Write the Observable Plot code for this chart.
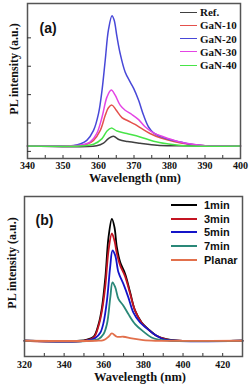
<!DOCTYPE html>
<html><head><meta charset="utf-8">
<script src="https://cdn.jsdelivr.net/npm/d3@7"></script>
<script src="https://cdn.jsdelivr.net/npm/@observablehq/plot@0.6"></script>
<style>
body{margin:0;background:#fff;}
#wrap{position:relative;width:250px;height:389px;overflow:hidden;background:#fff;}
.panel{position:absolute;left:0;}
.ytitle{position:absolute;white-space:nowrap;font-family:'Liberation Serif','Times New Roman',serif;font-weight:bold;font-size:12px;color:#111;line-height:12px;transform:translate(-50%,-50%) rotate(-90deg);}
</style></head><body><div id="wrap"></div>
<script>
// ---------- Panel (a) data ----------
const seriesA = ["Ref.", "GaN-10", "GaN-20", "GaN-30", "GaN-40"];
const colorsA = ["#404040", "#e4504c", "#4848d8", "#e444e4", "#48e448"];
const refA = [[340,.19],[359.5,.2],[361.4,.29],[362.8,.45],[364.2,.53],[365.9,.41],[368.2,.35],[371.7,.29],[376.5,.22],[382,.2],[400,.19]];
const gan10A = [[340,.19],[354,.2],[356.7,.25],[358.6,.39],[360.5,.74],[361.9,1.27],[362.8,1.54],[363.8,1.63],[365,1.45],[366.6,1.19],[368.4,1.07],[370.3,.95],[372.2,.8],[374.5,.63],[377.4,.48],[381.2,.35],[385,.26],[390,.2],[400,.19]];
const gan20A = [[340,.19],[350,.2],[353,.21],[355,.27],[356.7,.39],[358.6,.74],[360,1.33],[361,2.16],[361.9,3.22],[362.8,4.28],[363.8,4.78],[364.4,4.63],[365.2,4.04],[366.1,3.45],[367.5,2.8],[368.9,2.45],[369.9,2.22],[371.3,1.8],[372.7,1.27],[374.1,.86],[375.5,.65],[377.4,.53],[380.3,.41],[383.1,.33],[386,.25],[390,.2],[400,.19]];
const gan30A = [[340,.19],[352,.2],[354.8,.22],[357.6,.33],[359.5,.63],[361,1.21],[362.4,1.92],[363.6,2.16],[364.7,1.98],[366.1,1.63],[367.5,1.45],[369.4,1.3],[371.3,1.12],[373.2,.86],[375.5,.65],[378.4,.51],[382.1,.36],[386,.26],[390,.2],[400,.19]];
const gan40A = [[340,.19],[356,.2],[358.6,.25],[361,.45],[362.4,.72],[363.6,.82],[365.2,.72],[368,.63],[371.7,.51],[375.5,.36],[379.3,.27],[384,.2],[400,.19]];
const dataA = [refA, gan10A, gan20A, gan30A, gan40A];
const xLabelTicksA = [340, 350, 360, 370, 380, 390, 400];
const xMinorTicksA = [345,350,355,360,365,370,375,380,385,390,395];
const yTicksA = [0, 1, 2, 3, 4];

// ---------- Panel (b) data ----------
const seriesB = ["1min", "3min", "5min", "7min", "Planar"];
const colorsB = ["#000000", "#c41422", "#1414c8", "#2a8878", "#e2704c"];
const min1B = [[320,0],[348,0],[351.6,1],[354.9,3.3],[357.4,13.7],[359.1,27.4],[360.8,52],[362.4,84.9],[364.1,100],[365.4,93.1],[366.6,76.7],[368.3,64.3],[370.8,54.8],[373.3,39.7],[375.8,24.7],[379.1,15],[382.4,9.6],[386.6,4.1],[391.6,1.4],[398,0],[430,0]];
const min3B = [[320,0],[350,0],[354.9,2.7],[357.4,12.3],[359.1,24.7],[360.8,45],[362.4,74],[364.1,88],[365.4,82],[366.6,71.5],[368.3,61.6],[370.8,52.6],[373.3,38.6],[375.8,24.7],[379.1,14.8],[382.4,9.3],[386.6,4.1],[392,1],[398,0],[430,0]];
const min5B = [[320,0],[351,0],[355.7,2.2],[358.3,6.8],[359.9,15],[361.6,32.9],[363.3,61.6],[364.4,74],[365.8,69.8],[367.4,56.1],[369.9,46.6],[372.4,35.6],[374.9,23.3],[378.3,15],[381.6,10.4],[385.8,4.9],[389.9,1.4],[396,0],[430,0]];
const min7B = [[320,0],[353,0],[357.4,1.4],[359.9,5.5],[361.6,13.7],[363.3,35.6],[364.4,47.9],[365.8,43.8],[367.4,34.3],[369.9,28.8],[372.4,21.9],[375.8,13.7],[379.9,7.7],[384.1,2.7],[388.3,0.8],[394,0],[430,0]];
const planarB = [[320,0],[356,0],[359.9,0.5],[362.4,3.3],[364.1,6],[366.6,3.3],[369.9,3.3],[374.1,1.9],[379.9,0.5],[386,0],[430,0]];
const dataB = [min1B, min3B, min5B, min7B, planarB];
const xLabelTicksB = [320, 340, 360, 380, 400, 420];
const xMinorTicksB = [330,340,350,360,370,380,390,400,410,420];

const serif = "'Liberation Serif','Times New Roman',serif";
const sans = "'Liberation Sans',Arial,sans-serif";
const toRows = (names, data) => names.flatMap((s, i) => data[i].map(([x, y]) => ({series: s, x, y})));

const wrap = document.getElementById("wrap");

function panel(o) {
  const innerW = 250 - o.ml - o.mr, innerH = o.height - o.mt - o.mb;
  const marks = [
    Plot.line(o.rows, {x: "x", y: "y", z: "series", stroke: "series", strokeWidth: o.sw, curve: "catmull-rom"}),
    Plot.ruleX(o.minorTicks, {x: d => d, insetTop: innerH - 3, stroke: "#333", strokeWidth: 1}),
    Plot.frame({stroke: "#555", strokeWidth: 1.5}),
    Plot.axisX({ticks: o.labelTicks, tickSize: 0, tickPadding: o.tickPad, label: null, fontSize: 10, fontWeight: "bold", fontFamily: serif, fill: "#111"}),
    Plot.text(["Wavelength (nm)"], {frameAnchor: "bottom", dx: o.titleDx, dy: o.titleDy, fontSize: o.titleSize, fontWeight: "bold", fontFamily: serif, fill: "#111", text: d => d}),
    Plot.text([o.tag], {frameAnchor: "top-left", textAnchor: "start", dx: o.tagDx, dy: o.tagDy, fontSize: 14, fontWeight: "bold", fontFamily: sans, fill: "#111", text: d => d})
  ];
  if (o.yTicks) marks.push(Plot.ruleY(o.yTicks, {y: d => d, insetRight: innerW - 4, stroke: "#333", strokeWidth: 1}));
  return Plot.plot({
    width: 250, height: o.height, marginTop: o.mt, marginBottom: o.mb, marginLeft: o.ml, marginRight: o.mr,
    x: {domain: o.xdom, axis: null}, y: {domain: o.ydom, axis: null},
    color: {domain: o.names, range: o.colors},
    style: {fontFamily: serif, background: "transparent", overflow: "visible"},
    marks
  });
}

function legend(container, names, colors, {x, y0, dy, lw, gap, font, size, sw}) {
  names.forEach((n, i) => {
    const row = document.createElement("div");
    row.style.cssText = `position:absolute;left:${x}px;top:${y0 + i * dy - 7}px;height:14px;display:flex;align-items:center;white-space:nowrap;font-family:${font};font-weight:bold;font-size:${size}px;color:#111;line-height:14px;`;
    const line = document.createElement("span");
    line.style.cssText = `display:inline-block;width:${lw}px;height:0;border-top:${sw}px solid ${colors[i]};margin-right:${gap}px;`;
    const t = document.createElement("span");
    t.textContent = n;
    row.appendChild(line); row.appendChild(t);
    container.appendChild(row);
  });
}
function ytitle(container, cx, cy) {
  const d = document.createElement("div");
  d.className = "ytitle";
  d.style.left = cx + "px"; d.style.top = cy + "px";
  d.textContent = "PL intensity (a.u.)";
  container.appendChild(d);
}

const divA = document.createElement("div");
divA.className = "panel"; divA.style.top = "0px"; divA.style.width = "250px"; divA.style.height = "190px";
divA.appendChild(panel({
  rows: toRows(seriesA, dataA), names: seriesA, colors: colorsA,
  xdom: [340, 400], ydom: [-0.25, 5.21], height: 190, mt: 3, mb: 32, ml: 27, mr: 10,
  labelTicks: xLabelTicksA, minorTicks: xMinorTicksA, yTicks: yTicksA, sw: 1.5,
  tag: "(a)", tagDx: 12, tagDy: 20, titleDx: 1, titleDy: 23.5, tickPad: 3, titleSize: 12.5
}));
legend(divA, seriesA, colorsA, {x: 180, y0: 12, dy: 13.3, lw: 17, gap: 3, font: serif, size: 11, sw: 1.5});
ytitle(divA, 14, 68.5);
wrap.appendChild(divA);

const divB = document.createElement("div");
divB.className = "panel"; divB.style.top = "190px"; divB.style.width = "250px"; divB.style.height = "199px";
divB.appendChild(panel({
  rows: toRows(seriesB, dataB), names: seriesB, colors: colorsB,
  xdom: [320, 430], ydom: [-12.9, 118.3], height: 199, mt: 6, mb: 33, ml: 24, mr: 8,
  labelTicks: xLabelTicksB, minorTicks: xMinorTicksB, yTicks: null, sw: 1.8,
  tag: "(b)", tagDx: 11, tagDy: 19, titleDx: 6.5, titleDy: 24, tickPad: 4.5, titleSize: 12.5
}));
legend(divB, seriesB, colorsB, {x: 171, y0: 15, dy: 13.7, lw: 26, gap: 7, font: sans, size: 11, sw: 2});
ytitle(divB, 12, 73);
wrap.appendChild(divB);
</script></body></html>
